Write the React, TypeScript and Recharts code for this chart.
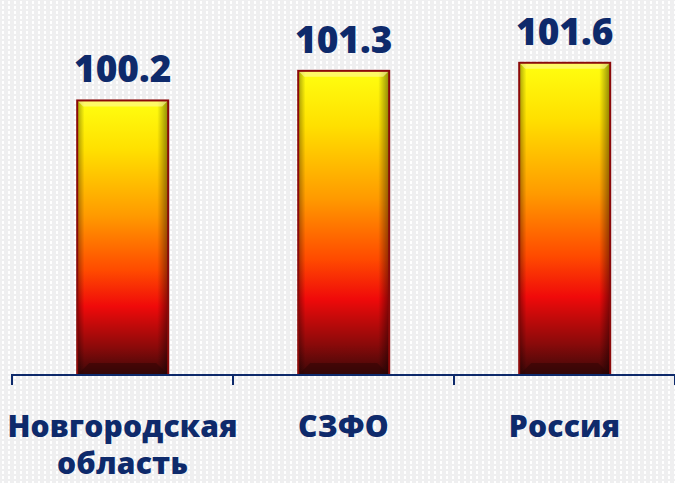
import React from 'react';
import { BarChart, Bar, XAxis, YAxis, LabelList } from 'recharts';

const regions = ['Новгородская область', 'СЗФО', 'Россия'];
const values = [100.2, 101.3, 101.6];

const data = regions.map((name, i) => ({ name, value: values[i] }));

const NAVY = '#0E2A6B';

const BevelBar = (props: any) => {
  const { x, y, width, height } = props;
  if (!height || height <= 0) return null;
  const b = 6;
  return (
    <g>
      <rect x={x} y={y} width={width} height={height} fill="url(#barFill)" />
      <rect x={x} y={y} width={width} height={height} fill="url(#sideShade)" />
      {/* bevel edges */}
      <polygon points={`${x},${y} ${x + width},${y} ${x + width - b},${y + b} ${x + b},${y + b}`} fill="#fff6a0" opacity={0.6} />
      <polygon points={`${x},${y + height} ${x + width},${y + height} ${x + width - b * 2},${y + height - b * 2} ${x + b * 2},${y + height - b * 2}`} fill="#2a0505" opacity={0.45} />
      <rect x={x} y={y} width={width} height={height} fill="none" stroke="#8B0A0A" strokeWidth={2} />
    </g>
  );
};

const RegionTick = (props: any) => {
  const { x, y, payload, index, visibleTicksCount } = props;
  const half = payload && payload.offset ? payload.offset : 110.5;
  const words = String(payload.value).split(' ');
  return (
    <g>
      <line x1={x - half} y1={y - 9} x2={x - half} y2={y + 2} stroke={NAVY} strokeWidth={2} />
      {index === visibleTicksCount - 1 && (
        <line x1={x + half} y1={y - 9} x2={x + half} y2={y + 2} stroke={NAVY} strokeWidth={2} />
      )}
      <text textAnchor="middle" fill={NAVY} fontSize={30} fontWeight={800} fontFamily="'Open Sans', sans-serif" letterSpacing={0.2}>
        {words.map((w, i) => (
          <tspan key={i} x={x} y={y + 54 + i * 37}>{w}</tspan>
        ))}
      </text>
    </g>
  );
};

export default function App() {
  return (
    <div
      style={{
        position: 'absolute',
        left: 0,
        top: 0,
        width: 675,
        height: 483,
        backgroundColor: '#efeff0',
        backgroundImage: 'radial-gradient(circle, #ffffff 1.2px, transparent 1.4px)',
        backgroundSize: '6px 5px',
      }}
    >
      <BarChart width={675} height={483} data={data} margin={{ top: 52, right: 0, bottom: 0, left: 12 }} barCategoryGap="29.5%">
        <defs>
          <linearGradient id="barFill" x1="0" y1="0" x2="0" y2="1">
            <stop offset="0%" stopColor="#ffff10" />
            <stop offset="18%" stopColor="#ffe000" />
            <stop offset="42%" stopColor="#ff9a00" />
            <stop offset="62%" stopColor="#ff4a00" />
            <stop offset="75%" stopColor="#f00a0a" />
            <stop offset="90%" stopColor="#8a0a0a" />
            <stop offset="100%" stopColor="#3a0808" />
          </linearGradient>
          <linearGradient id="sideShade" x1="0" y1="0" x2="1" y2="0">
            <stop offset="0%" stopColor="#000" stopOpacity={0.35} />
            <stop offset="8%" stopColor="#000" stopOpacity={0} />
            <stop offset="88%" stopColor="#000" stopOpacity={0} />
            <stop offset="100%" stopColor="#000" stopOpacity={0.45} />
          </linearGradient>
        </defs>
        <YAxis hide domain={[90, 102]} />
        <XAxis
          dataKey="name"
          height={108}
          axisLine={{ stroke: NAVY, strokeWidth: 2 }}
          tickLine={false}
          interval={0}
          tick={<RegionTick />}
        />
        <Bar dataKey="value" shape={<BevelBar />} isAnimationActive={false}>
          <LabelList
            dataKey="value"
            position="top"
            offset={18}
            fill={NAVY}
            fontSize={37}
            fontWeight={800}
            fontFamily="'Open Sans', sans-serif"
            formatter={(v: any) => Number(v).toFixed(1)}
          />
        </Bar>
      </BarChart>
    </div>
  );
}
